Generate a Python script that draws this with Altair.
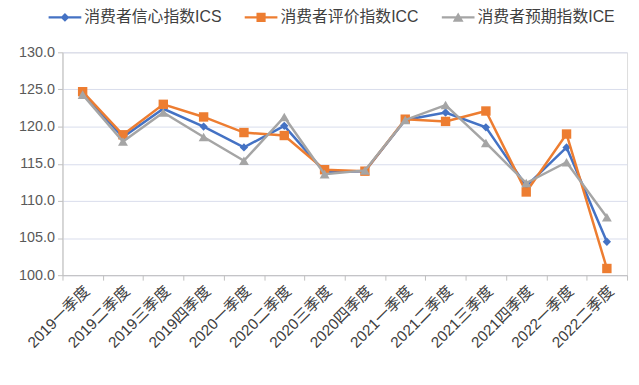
import altair as alt
import pandas as pd

quarters = ["2019一季度", "2019二季度", "2019三季度", "2019四季度",
            "2020一季度", "2020二季度", "2020三季度", "2020四季度",
            "2021一季度", "2021二季度", "2021三季度", "2021四季度",
            "2022一季度", "2022二季度"]
series_names = ["消费者信心指数ICS", "消费者评价指数ICC", "消费者预期指数ICE"]
ics = [124.4, 118.6, 122.4, 120.0, 117.2, 120.1, 113.9, 114.0, 120.9, 121.9, 119.9, 112.0, 117.2, 104.5]
icc = [124.7, 118.9, 123.0, 121.3, 119.2, 118.8, 114.2, 114.0, 121.0, 120.7, 122.1, 111.2, 119.0, 100.9]
ice = [124.3, 118.0, 121.9, 118.6, 115.4, 121.3, 113.6, 114.1, 120.9, 122.9, 117.8, 112.4, 115.2, 107.8]
colors = ["#4472C4", "#ED7D31", "#A5A5A5"]
marker_shapes = ["diamond", "square", "triangle-up"]
marker_sizes = [70, 90, 100]
y_ticks = [100, 105, 110, 115, 120, 125, 130]

legend_paths = [
    "M-1,-0.07H1V0.07H-1Z M0,-0.27L0.27,0L0,0.27L-0.27,0Z",
    "M-1,-0.07H1V0.07H-1Z M-0.28,-0.28H0.28V0.28H-0.28Z",
    "M-1,-0.07H1V0.07H-1Z M0,-0.3L0.33,0.27H-0.33Z",
]

rows = []
for name, vals in zip(series_names, [ics, icc, ice]):
    for q, v in zip(quarters, vals):
        rows.append({"quarter": q, "series": name, "value": v})
df = pd.DataFrame(rows)

FONT = "Liberation Sans, 'Noto Sans CJK SC', sans-serif"

x_enc = alt.X(
    "quarter:N", sort=quarters,
    scale=alt.Scale(type="band", domain=quarters, paddingInner=0, paddingOuter=0),
    axis=alt.Axis(title=None, labelAngle=-45, labelAlign="right", labelBaseline="middle",
                  labelFontSize=15.5, labelColor="#404040", labelPadding=8, labelOffset=4,
                  tickBand="extent", tickSize=5, tickColor="#BFBFBF",
                  domainColor="#BFBFBF", grid=False, labelFont=FONT),
)
y_enc = alt.Y(
    "value:Q",
    scale=alt.Scale(domain=[100, 130], nice=False, zero=False),
    axis=alt.Axis(title=None, values=y_ticks, format=".1f", labelFontSize=14.5,
                  labelColor="#595959", labelPadding=3, tickSize=5, tickColor="#BFBFBF",
                  domainColor="#BFBFBF", gridColor="#D9DDEC", gridWidth=1, labelFont=FONT),
)

base = alt.Chart(df)
layers = []
for name, c, shp, sz in zip(series_names, colors, marker_shapes, marker_sizes):
    sub = base.transform_filter(alt.datum.series == name)
    layers.append(sub.mark_line(color=c, strokeWidth=2.5).encode(x=x_enc, y=y_enc))
    layers.append(sub.mark_point(color=c, filled=True, opacity=1, shape=shp, size=sz)
                  .encode(x=x_enc, y=y_enc))

legend_layer = base.transform_filter(alt.datum.value < 0).mark_point(filled=True, opacity=1).encode(
    x=x_enc, y=y_enc,
    color=alt.Color("series:N", scale=alt.Scale(domain=series_names, range=colors),
                    legend=alt.Legend(title=None, orient="none", direction="horizontal",
                                      legendX=-14, legendY=-52, symbolSize=1089,
                                      labelFontSize=16, labelColor="#404040", labelFont=FONT,
                                      labelOffset=3, columnPadding=23, padding=0,
                                      symbolOpacity=1, symbolStrokeWidth=0)),
    shape=alt.Shape("series:N", scale=alt.Scale(domain=series_names, range=legend_paths)),
)

chart = alt.layer(*layers, legend_layer).properties(
    width=570, height=225,
    padding={"left": 55, "top": 43, "right": 4, "bottom": 95},
    autosize=alt.AutoSizeParams(type="none"),
).configure_view(stroke=None).configure(font=FONT)

chart.save("out.html", embed_options={"renderer": "svg", "actions": False})
